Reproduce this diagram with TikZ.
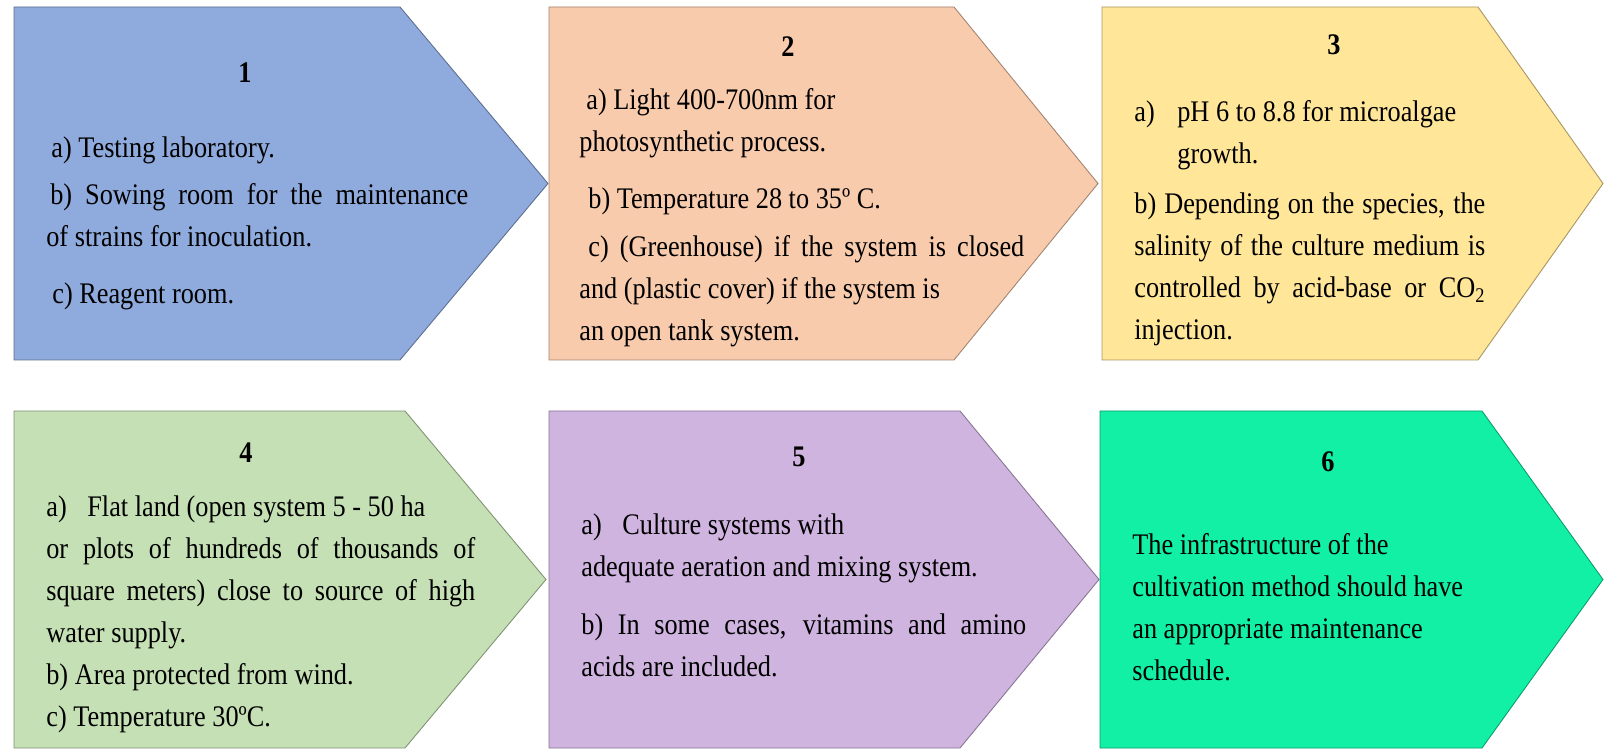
\documentclass[tikz,border=0pt]{standalone}
\usepackage{fontspec}
\setmainfont{Liberation Serif}[FakeStretch=0.88]
\usetikzlibrary{positioning}
\definecolor{stepA}{HTML}{8FAADC}
\definecolor{stepB}{HTML}{F8CBAD}
\definecolor{stepC}{HTML}{FFE699}
\definecolor{stepD}{HTML}{C5E0B4}
\definecolor{stepE}{HTML}{D0B4E0}
\definecolor{stepF}{HTML}{12F0A6}
\setlength{\parindent}{0pt}
\tolerance=9999
\hbadness=10000
\begin{document}
\begin{tikzpicture}[font=\fontsize{17}{23.9}\selectfont,
 chevron/.style={draw=#1!65!black,fill=#1,line width=.5pt},
 num/.style={font=\fontsize{17}{23.9}\selectfont\bfseries,inner sep=0pt},
 body/.style={anchor=base west,inner sep=0pt,align=justify}]
\useasboundingbox (0,0) rectangle (32.1,14.98);
\foreach \col/\xl/\xs/\xt/\yt/\yb in {stepA/0.28/8.0/10.96/14.84/7.78,
 stepB/10.98/19.08/21.96/14.84/7.78, stepC/22.04/29.56/32.06/14.84/7.78,
 stepD/0.28/8.1/10.92/6.76/0.02, stepE/10.98/19.2/21.98/6.76/0.02,
 stepF/22.0/29.64/32.06/6.76/0.02}
 \draw[chevron=\col] (\xl,\yt) -- (\xs,\yt) -- (\xt,{(\yt+\yb)/2}) -- (\xs,\yb) -- (\xl,\yb) -- cycle;
\node[num] (n1) at (4.9,13.52) {1};
\node[num] (n2) at (15.76,14.04) {2};
\node[num] (n3) at (26.68,14.08) {3};
\node[num] (n4) at (4.92,5.92) {4};
\node[num] (n5) at (15.98,5.84) {5};
\node[num] (n6) at (26.56,5.74) {6};
\node[body,text width=8.44cm] (t1) at (0.92,11.82) {\hspace*{.1cm}a) Testing laboratory.\\[.1cm]
\hspace*{.08cm}b) Sowing room for the maintenance\linebreak
of strains for inoculation.\\[.3cm]
\hspace*{.12cm}c) Reagent room.};
\node[body,text width=8.9cm] (t2) at (11.58,12.78) {\hspace*{.14cm}a) Light 400-700nm for\\
photosynthetic process.\\[.3cm]
\hspace*{.18cm}b) Temperature 28 to 35º C.\\[.12cm]
\hspace*{.18cm}c) (Greenhouse) if the system is closed\linebreak
and (plastic cover) if the system is\\
an open tank system.};
\node[body,text width=7.02cm] (t3) at (22.68,12.54) {\makebox[.86cm][l]{a)}pH 6 to 8.8 for microalgae\\
\hspace*{.86cm}growth.\\[.16cm]
b) Depending on the species, the\linebreak
salinity of the culture medium is\linebreak
controlled by acid-base or CO\textsubscript{2}\linebreak
injection.};
\node[body,text width=8.58cm] (t4) at (0.92,4.64) {\makebox[.82cm][l]{a)}Flat land (open system 5 - 50 ha\\
or plots of hundreds of thousands of\linebreak
square meters) close to source of high\linebreak
water supply.\\
b) Area protected from wind.\\
c) Temperature 30ºC.};
\node[body,text width=8.9cm] (t5) at (11.62,4.28) {\makebox[.82cm][l]{a)}Culture systems with\\
adequate aeration and mixing system.\\[.32cm]
b) In some cases, vitamins and amino\linebreak
acids are included.};
\node[body,text width=8cm,align=flush left] (t6) at (22.64,3.88) {The infrastructure of the\\
cultivation method should have\\
an appropriate maintenance\\
schedule.};
\end{tikzpicture}
\end{document}
